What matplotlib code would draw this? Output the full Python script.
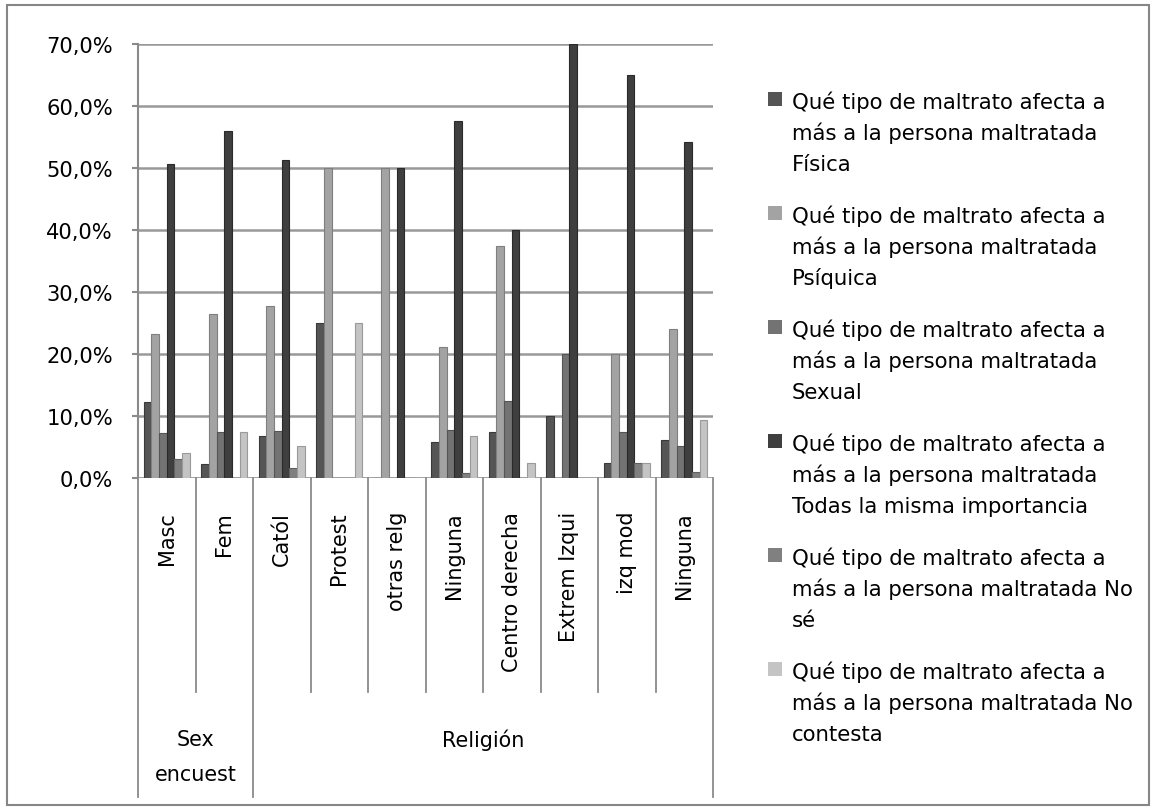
import matplotlib
matplotlib.use("Agg")
import matplotlib.pyplot as plt
import numpy as np
from matplotlib.transforms import blended_transform_factory
from matplotlib.patches import Rectangle

plt.rcParams['font.family'] = ['DejaVu Sans']

categories = ["Masc", "Fem", "Catól", "Protest", "otras relg", "Ninguna",
              "Centro derecha", "Extrem Izqui", "izq mod", "Ninguna"]
group_labels = ["Sex\nencuest", "Religión"]
group_bounds = [(0, 2), (2, 10)]

fisica = [12.2, 2.2, 6.8, 25.0, 0.0, 5.8, 7.5, 10.0, 2.5, 6.2]
psiquica = [23.3, 26.5, 27.8, 50.0, 50.0, 21.2, 37.5, 0.0, 20.0, 24.0]
sexual = [7.2, 7.5, 7.6, 0.0, 0.0, 7.7, 12.5, 20.0, 7.5, 5.2]
todas = [50.6, 56.0, 51.3, 0.0, 50.0, 57.6, 40.0, 70.0, 65.0, 54.2]
nose = [3.0, 0.0, 1.6, 0.0, 0.0, 0.8, 0.0, 0.0, 2.5, 1.0]
nocontesta = [4.0, 7.5, 5.1, 25.0, 0.0, 6.7, 2.5, 0.0, 2.5, 9.3]

series_names = [
    "Qué tipo de maltrato afecta a\nmás a la persona maltratada\nFísica",
    "Qué tipo de maltrato afecta a\nmás a la persona maltratada\nPsíquica",
    "Qué tipo de maltrato afecta a\nmás a la persona maltratada\nSexual",
    "Qué tipo de maltrato afecta a\nmás a la persona maltratada\nTodas la misma importancia",
    "Qué tipo de maltrato afecta a\nmás a la persona maltratada No\nsé",
    "Qué tipo de maltrato afecta a\nmás a la persona maltratada No\ncontesta",
]
series = [fisica, psiquica, sexual, todas, nose, nocontesta]
colors = ["#555555", "#a3a3a3", "#737373", "#3f3f3f", "#808080", "#c4c4c4"]
edges = ["#3a3a3a", "#7f7f7f", "#555555", "#2a2a2a", "#606060", "#9a9a9a"]
y_ticks = [0, 10, 20, 30, 40, 50, 60, 70]

W, H = 1156, 812
fig = plt.figure(figsize=(W / 100, H / 100), dpi=100)
renderer = fig.canvas.get_renderer()


def fit_size(text, target_px, family, vertical=False):
    t = fig.text(0, 0, text, fontsize=10, family=family,
                 rotation=90 if vertical else 0)
    bb = t.get_window_extent(renderer)
    t.remove()
    size = bb.height if vertical else bb.width
    return 10 * target_px / size


fs_leg = fit_size("Qué tipo de maltrato afecta a", 316, "DejaVu Sans")
fs_tick = fit_size("70,0%", 66, "DejaVu Sans")
fs_cat = fit_size("Centro derecha", 160, "DejaVu Sans", vertical=True)
fs_grp = fit_size("Religión", 82, "DejaVu Sans")

# outer chart border
fig.patches.append(Rectangle((7 / W, 1 - 806 / H), (1149 - 7) / W, (806 - 6) / H,
                             transform=fig.transFigure, fill=False,
                             edgecolor="#868686", linewidth=1.5))

ax_l, ax_r, ax_t, ax_b = 138, 713, 45, 479
ax = fig.add_axes([ax_l / W, 1 - ax_b / H, (ax_r - ax_l) / W, (ax_b - ax_t) / H])
n = len(categories)
x = np.arange(n)
ns = len(series)
bw = 0.8 / ns
for i, (vals, c, e) in enumerate(zip(series, colors, edges)):
    ax.bar(x + (i - (ns - 1) / 2) * bw, vals, width=bw, color=c, edgecolor=e,
           linewidth=0.8, zorder=3)

ax.set_xlim(-0.5, n - 0.5)
ax.set_ylim(0, 70)
ax.set_yticks(y_ticks)
ax.set_yticklabels([f"{v:.1f}%".replace(".", ",") for v in y_ticks], fontsize=fs_tick)
ax.yaxis.grid(True, color="#999999", linewidth=1.8, zorder=0)
ax.set_xticks([])
for s in ["top", "right", "bottom"]:
    ax.spines[s].set_visible(False)
ax.spines["left"].set_color("#8a8a8a")
ax.spines["left"].set_linewidth(1.5)
ax.tick_params(axis="y", length=4, color="#8a8a8a", width=1.5, pad=14)
ax.axhline(0, color="#a0a0a0", linewidth=1.8, zorder=2)

tr = blended_transform_factory(ax.transData, fig.transFigure)
y0 = 1 - ax_b / H
y_inner = 1 - 693 / H
y_outer = 1 - 798 / H
group_edges = set()
for a, b in group_bounds:
    group_edges.add(a)
    group_edges.add(b)
for k in range(n + 1):
    yb = y_outer if k in group_edges else y_inner
    ax.plot([k - 0.5, k - 0.5], [y0, yb], transform=tr, color="#8a8a8a",
            linewidth=1.3, clip_on=False)

for k, name in enumerate(categories):
    ax.text(k, 1 - 512 / H, name, transform=tr, rotation=90, ha="center",
            va="top", fontsize=fs_cat)

for (a, b), lab in zip(group_bounds, group_labels):
    lines = lab.split("\n")
    for j, ln in enumerate(lines):
        ax.text((a + b - 1) / 2, 1 - (740 + j * 35) / H, ln, transform=tr,
                ha="center", va="center", fontsize=fs_grp)

# legend
leg_top = 100
step = 114
line_h = 31.5
for i, (name, c) in enumerate(zip(series_names, colors)):
    yc = leg_top + i * step
    fig.patches.append(Rectangle((768 / W, 1 - (yc + 7) / H), 14 / W, 14 / H,
                                 transform=fig.transFigure, facecolor=c,
                                 edgecolor="none"))
    for j, ln in enumerate(name.split("\n")):
        fig.text(792 / W, 1 - (yc + j * line_h) / H, ln, ha="left",
                 va="center_baseline", fontsize=fs_leg)

fig.savefig("out.png", dpi=100)
